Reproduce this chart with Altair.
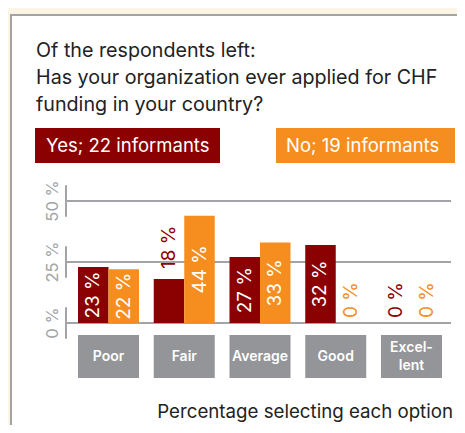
import altair as alt
import pandas as pd

# ---- data ----
categories = ["Poor", "Fair", "Average", "Good", "Excel-\nlent"]
series = ["Yes; 22 informants", "No; 19 informants"]
yes_values = [23, 18, 27, 32, 0]
no_values = [22, 44, 33, 0, 0]
y_ticks = [0, 25, 50]
tick_labels = ["0 %", "25 %", "50 %"]
title_lines = ["Of the respondents left:",
               "Has your organization ever applied for CHF",
               "funding in your country?"]
caption = "Percentage selecting each option"

colors = ["#8B0000", "#F68E1F"]
FONT = "Inter"
GRAY = "#A2A4A7"

rows = []
for i, c in enumerate(categories):
    rows.append({"cat": c, "series": series[0], "value": yes_values[i]})
    rows.append({"cat": c, "series": series[1], "value": no_values[i]})
df = pd.DataFrame(rows)

x_enc = alt.X("cat:N", sort=categories,
              scale=alt.Scale(paddingInner=0.1947, paddingOuter=0.1585), axis=None)
xoff = alt.XOffset("series:N", sort=series,
                   scale=alt.Scale(paddingInner=0, paddingOuter=0))
y_scale = alt.Scale(domain=[0, 50])
color_enc = alt.Color("series:N", scale=alt.Scale(domain=series, range=colors), legend=None)

one = pd.DataFrame({"k": [0]})

panel = alt.Chart(one).mark_rect(fill="white", stroke="#A3A3A3", strokeWidth=2).encode(
    x=alt.value(-55), x2=alt.value(600), y=alt.value(-186), y2=alt.value(400))

title = alt.Chart(pd.DataFrame({"t": ["\n".join(title_lines)]})).mark_text(
    align="left", baseline="alphabetic", font=FONT, fontSize=19.7, color="#222222",
    lineBreak="\n", lineHeight=27).encode(
    x=alt.value(-30), y=alt.value(-144), text="t:N")

leg_df = pd.DataFrame({"series": series})
leg_rect_yes = alt.Chart(leg_df.iloc[[0]]).mark_rect().encode(
    x=alt.value(-31), x2=alt.value(154), y=alt.value(-73), y2=alt.value(-38),
    color=color_enc)
leg_rect_no = alt.Chart(leg_df.iloc[[1]]).mark_rect().encode(
    x=alt.value(210), x2=alt.value(389), y=alt.value(-73), y2=alt.value(-38),
    color=color_enc)
leg_txt_yes = alt.Chart(leg_df.iloc[[0]]).mark_text(
    align="left", baseline="middle", font=FONT, fontSize=18.5, color="white").encode(
    x=alt.value(-20), y=alt.value(-55), text="series:N")
leg_txt_no = alt.Chart(leg_df.iloc[[1]]).mark_text(
    align="left", baseline="middle", font=FONT, fontSize=18.5, color="white").encode(
    x=alt.value(220), y=alt.value(-55), text="series:N")

tick_df = pd.DataFrame({"v": y_ticks, "lab": tick_labels})
tick_df["lo"] = tick_df["v"] - 6.5
tick_df["hi"] = tick_df["v"] + 6.5
grid = alt.Chart(tick_df).mark_rule(color=GRAY, strokeWidth=2).encode(
    x=alt.value(0), x2=alt.value(385), y=alt.Y("v:Q", scale=y_scale, axis=None))
vseg = alt.Chart(tick_df).mark_rule(color=GRAY, strokeWidth=2).encode(
    x=alt.value(0), y=alt.Y("lo:Q", scale=y_scale, axis=None), y2="hi:Q")
tlab = alt.Chart(tick_df).mark_text(
    angle=270, align="center", baseline="middle", font=FONT, fontSize=16.5,
    color=GRAY).encode(
    x=alt.value(-13), y=alt.Y("v:Q", scale=y_scale, axis=None), text="lab:N")

bars = alt.Chart(df).mark_bar().encode(
    x=x_enc, xOffset=xoff, y=alt.Y("value:Q", scale=y_scale, axis=None), color=color_enc)

inside = alt.Chart(df).transform_filter("datum.value >= 20").transform_calculate(
    mid="datum.value / 2", lab="datum.value + ' %'").mark_text(
    angle=270, align="center", baseline="middle", font=FONT, fontSize=19,
    color="white").encode(
    x=x_enc, xOffset=xoff, y=alt.Y("mid:Q", scale=y_scale, axis=None), text="lab:N")

outside_nz = alt.Chart(df).transform_filter("datum.value < 20 && datum.value > 0").transform_calculate(
    lab="datum.value + ' %'").mark_text(
    angle=270, align="left", baseline="middle", font=FONT, fontSize=19, dx=10).encode(
    x=x_enc, xOffset=xoff, y=alt.Y("value:Q", scale=y_scale, axis=None), text="lab:N",
    color=color_enc)
outside_z = alt.Chart(df).transform_filter("datum.value == 0").transform_calculate(
    lab="datum.value + ' %'").mark_text(
    angle=270, align="left", baseline="middle", font=FONT, fontSize=19, dx=5).encode(
    x=x_enc, xOffset=xoff, y=alt.Y("value:Q", scale=y_scale, axis=None), text="lab:N",
    color=color_enc)

cat_df = pd.DataFrame({"cat": categories})
cat_box = alt.Chart(cat_df).mark_rect(color="#939598").encode(
    x=x_enc, y=alt.value(134), y2=alt.value(177))
cat_txt1 = alt.Chart(cat_df).transform_filter("indexof(datum.cat, '\\n') < 0").mark_text(
    font=FONT, fontSize=14, fontWeight=600, color="white", baseline="middle").encode(
    x=x_enc, y=alt.value(156), text="cat:N")
cat_txt2 = alt.Chart(cat_df).transform_filter("indexof(datum.cat, '\\n') >= 0").mark_text(
    font=FONT, fontSize=14, fontWeight=600, color="white", lineBreak="\n",
    lineHeight=18, baseline="middle").encode(
    x=x_enc, y=alt.value(147), text="cat:N")

cap = alt.Chart(pd.DataFrame({"t": [caption]})).mark_text(
    align="right", baseline="alphabetic", font=FONT, fontSize=18.7, color="#222222").encode(
    x=alt.value(387), y=alt.value(217), text="t:N")

chart = alt.layer(
    panel, title, leg_rect_yes, leg_rect_no, leg_txt_yes, leg_txt_no,
    grid, vseg, tlab, bars, inside, outside_nz, outside_z, cat_box, cat_txt1, cat_txt2, cap
).properties(
    width=388, height=122,
    autosize=alt.AutoSizeParams(type="none"),
    padding={"left": 58, "top": 193, "right": 3, "bottom": 102},
    background="#FCF4E4",
).configure_view(stroke=None)

chart.save("out.html", embed_options={"renderer": "svg", "actions": False})
